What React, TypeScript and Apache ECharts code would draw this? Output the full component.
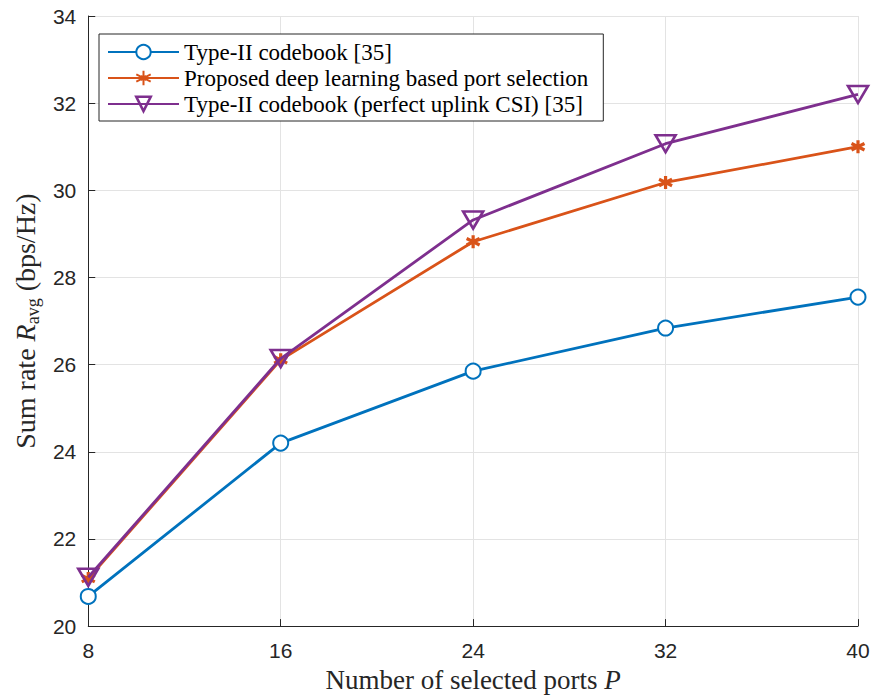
import React, { useEffect, useRef } from "react";
import * as echarts from "echarts";

const ports = [8, 16, 24, 32, 40];
const typeII = [20.68, 24.2, 25.85, 26.84, 27.55];
const proposed = [21.09, 26.11, 28.82, 30.18, 31.0];
const perfect = [21.12, 26.14, 29.32, 31.07, 32.2];
const seriesNames = [
  "Type-II codebook [35]",
  "Proposed deep learning based port selection",
  "Type-II codebook (perfect uplink CSI) [35]",
];

const BLUE = "#0072BD";
const ORANGE = "#D95319";
const PURPLE = "#7E2F8E";

const asterisk =
  "path://M0,-10L0,10M-8.66,-5L8.66,5M-8.66,5L8.66,-5M-3,-3L3,3M-3,3L3,-3";
const triDown = "path://M0,0L20,0L10,17Z";

export default function App() {
  const ref = useRef<HTMLDivElement>(null);
  useEffect(() => {
    const chart = echarts.init(ref.current!, null, { renderer: "svg" });
    const pair = (ys: number[]) => ports.map((p, i) => [p, ys[i]]);
    const serif = "Liberation Serif";
    const sans = "Liberation Sans";
    const triStyle = { color: "rgba(0,0,0,0)", borderColor: PURPLE, borderWidth: 2.6 };
    chart.setOption({
      animation: false,
      backgroundColor: "#ffffff",
      grid: { left: 84, right: 16, top: 16, bottom: 66, containLabel: false },
      legend: {
        orient: "vertical",
        left: 99,
        top: 34,
        backgroundColor: "#ffffff",
        borderColor: "#262626",
        borderWidth: 1,
        borderRadius: 0,
        padding: [5, 15, 4, 8],
        itemWidth: 71,
        itemHeight: 18,
        itemGap: 0,
        textStyle: { fontFamily: serif, fontSize: 23, lineHeight: 26, color: "#000" },
        data: [
          { name: seriesNames[0] },
          { name: seriesNames[1] },
          { name: seriesNames[2], itemStyle: triStyle },
        ],
      },
      xAxis: {
        type: "value",
        min: 8,
        max: 40,
        interval: 8,
        name: "Number of selected ports {i|P}",
        nameLocation: "middle",
        nameGap: 38,
        nameTextStyle: {
          fontFamily: serif,
          fontSize: 27,
          color: "#262626",
          rich: { i: { fontFamily: serif, fontSize: 27, fontStyle: "italic", color: "#262626" } },
        },
        axisLine: { show: true, lineStyle: { color: "#262626", width: 1 } },
        axisTick: { show: true, inside: true, length: 7, lineStyle: { color: "#262626" } },
        axisLabel: { fontFamily: sans, fontSize: 21, color: "#262626", margin: 14 },
        splitLine: { show: true, lineStyle: { color: "#e3e3e3", width: 1 } },
      },
      yAxis: {
        type: "value",
        min: 20,
        max: 34,
        interval: 2,
        name: "Sum rate {i|R}{sub|avg} (bps/Hz)",
        nameLocation: "middle",
        nameGap: 51,
        nameTextStyle: {
          fontFamily: serif,
          fontSize: 28,
          color: "#262626",
          lineHeight: 34,
          verticalAlign: "middle",
          rich: {
            i: { fontFamily: serif, fontSize: 28, fontStyle: "italic", color: "#262626", lineHeight: 34, verticalAlign: "middle" },
            sub: { fontFamily: serif, fontSize: 18, color: "#262626", lineHeight: 34, verticalAlign: "bottom" },
          },
        },
        axisLine: { show: true, lineStyle: { color: "#262626", width: 1 } },
        axisTick: { show: true, inside: true, length: 7, lineStyle: { color: "#262626" } },
        axisLabel: { fontFamily: sans, fontSize: 21, color: "#262626", margin: 12 },
        splitLine: { show: true, lineStyle: { color: "#e3e3e3", width: 1 } },
      },
      series: [
        {
          name: seriesNames[0],
          type: "line",
          data: pair(typeII),
          symbol: "emptyCircle",
          symbolSize: 15,
          color: BLUE,
          lineStyle: { width: 2.8, color: BLUE },
          itemStyle: { color: BLUE, borderColor: BLUE, borderWidth: 2.6 },
          z: 2,
        },
        {
          name: seriesNames[1],
          type: "line",
          data: pair(proposed),
          symbol: asterisk,
          symbolSize: 13,
          color: ORANGE,
          lineStyle: { width: 2.8, color: ORANGE },
          itemStyle: { color: ORANGE, borderColor: ORANGE, borderWidth: 3.2 },
          z: 3,
        },
        {
          name: seriesNames[2],
          type: "line",
          data: pair(perfect),
          symbol: triDown,
          symbolSize: [20, 17],
          color: PURPLE,
          lineStyle: { width: 2.8, color: PURPLE },
          itemStyle: triStyle,
          z: 4,
        },
      ],
    });
    return () => chart.dispose();
  }, []);
  return (
    <div
      ref={ref}
      style={{ position: "absolute", left: 0, top: 0, width: 874, height: 698, overflow: "hidden" }}
    />
  );
}
